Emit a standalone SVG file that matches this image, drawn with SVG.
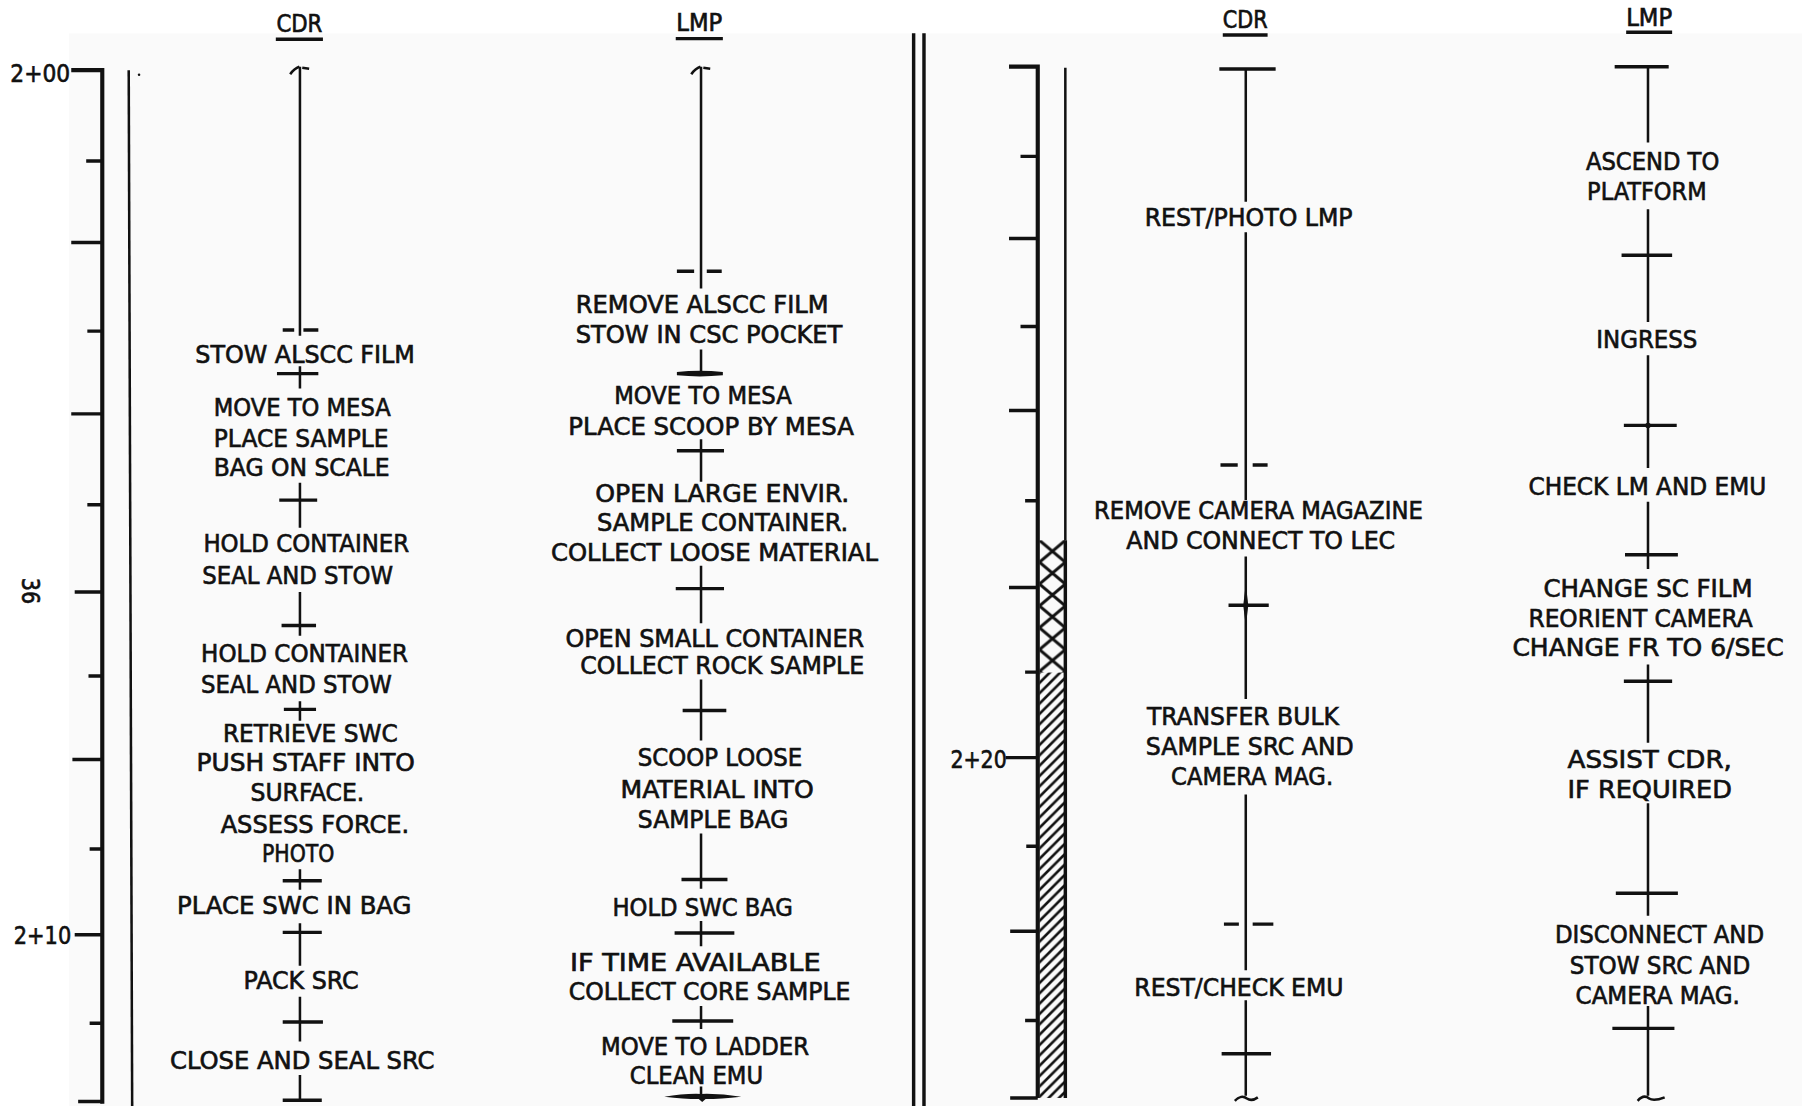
<svg xmlns="http://www.w3.org/2000/svg" width="1802" height="1106" viewBox="0 0 1802 1106">
<defs>
<style>
text{font-family:"DejaVu Sans Condensed","DejaVu Sans","Liberation Sans",sans-serif;font-size:22px;fill:#111;stroke:#111;stroke-width:0.55px}
.hd{font-size:21px}
.ln{stroke:#111;stroke-width:2.2;fill:none}
.tk{stroke:#111;stroke-width:3;fill:none}
.ax{stroke:#111;stroke-width:3.6;fill:none}
.ul{stroke:#111;stroke-width:3}
</style>
<pattern id="xh" patternUnits="userSpaceOnUse" x="904.5" y="470" width="22.5" height="19">
<path d="M0 0 L22.5 19 M22.5 0 L0 19" stroke="#111" stroke-width="2.6" fill="none"/>
</pattern>
<pattern id="dh" patternUnits="userSpaceOnUse" x="904.5" y="585" width="9" height="9">
<path d="M0 9 L9 0 M-1 1 L1 -1 M8 10 L10 8" stroke="#111" stroke-width="2.3" fill="none"/>
</pattern>
</defs>
<rect x="0" y="0" width="1802" height="1106" fill="#ffffff"/>
<g transform="scale(1.14923,1.14969)">
<rect x="60" y="29" width="1508" height="933" fill="#fafafa"/>

<g id="headers">
<text class="hd" x="240.5" y="27.5" textLength="40" lengthAdjust="spacingAndGlyphs">CDR</text>
<line class="ul" x1="240" y1="34.2" x2="281" y2="34.2"/>
<text class="hd" x="588.5" y="26.8" textLength="40" lengthAdjust="spacingAndGlyphs">LMP</text>
<line class="ul" x1="588" y1="33.6" x2="629" y2="33.6"/>
<text class="hd" x="1064" y="24.5" textLength="39" lengthAdjust="spacingAndGlyphs">CDR</text>
<line class="ul" x1="1064" y1="30.4" x2="1103" y2="30.4"/>
<text class="hd" x="1415" y="23" textLength="40" lengthAdjust="spacingAndGlyphs">LMP</text>
<line class="ul" x1="1415" y1="28" x2="1455" y2="28"/>
</g>

<g id="time-axis-left">
<path class="ax" d="M62 61 H89 V960"/>
<path class="tk" d="M75 140 H89 M62 211 H89 M76 288 H89 M62 360 H89 M76 439 H89 M65 515 H89 M77 588 H89 M63 660.6 H89 M78 738.5 H89 M65 813 H89 M78 890 H89 M68 958 H89"/>
<line class="ln" x1="112" y1="61" x2="115" y2="962"/>
<circle cx="121" cy="65" r="1.1" fill="#111"/>
<text x="9" y="71" textLength="52" lengthAdjust="spacingAndGlyphs">2+00</text>
<text x="12" y="821" textLength="50" lengthAdjust="spacingAndGlyphs">2+10</text>
<text transform="translate(19.5,514) rotate(90)" text-anchor="middle" textLength="23" lengthAdjust="spacingAndGlyphs">36</text>
</g>

<g id="time-axis-right">
<line x1="795" y1="29" x2="795" y2="962" stroke="#111" stroke-width="3"/>
<line x1="804" y1="29" x2="804" y2="962" stroke="#111" stroke-width="3"/>
<rect x="904.5" y="470" width="22.5" height="115" fill="url(#xh)"/>
<rect x="904.5" y="585" width="22.5" height="370" fill="url(#dh)"/>
<path class="ax" d="M878 58 H903 V955"/>
<path class="tk" d="M888 136 H903 M878 207.5 H903 M888 284 H903 M878 357 H903 M892 435.6 H903 M878 511 H903 M892 584.6 H903 M875 659 H903 M893 736 H903 M879 810 H903 M892 887.6 H903 M879 955 H903"/>
<line x1="927" y1="59" x2="927" y2="470" stroke="#111" stroke-width="2.2"/>
<line x1="927" y1="470" x2="927" y2="955" stroke="#111" stroke-width="3"/>
<text x="827" y="668" textLength="49" lengthAdjust="spacingAndGlyphs">2+20</text>
</g>

<g id="connectors">
<path class="ln" d="M261 58 V292 M261 318.5 V338 M261 420 V459 M261 515 V553 M261 610 V627 M261 756 V774 M261 803 V840 M261 867 V906 M261 935 V957"/>
<path class="ln" d="M252.5 64.5 Q256 59.5 260.5 58 M263 59 L269 59.8"/>
<path class="tk" d="M246 287 H256 M264 287 H277 M241 325 H277 M243 435 H276 M245 544 H275 M247 617 H275 M246 766 H280 M246 811 H280 M246 889 H281 M246 957 H280"/>
<path class="ln" d="M610 58 V251 M610 304 V325 M610 382 V419 M610 492 V542 M610 591 V644 M610 725 V773 M610 801 V823 M610 875 V895 M610 945 V955"/>
<path class="ln" d="M601.5 64.5 Q605 59.5 609.5 58 M612 59 L618 59.8"/>
<path class="tk" d="M589 236 H604 M615 236 H628 M589 392 H630 M588 512 H630 M594 618 H632 M593 765 H633 M587 811.6 H639 M585 888 H638"/>
<path d="M589 323.5 Q609 321.5 629 323.5 L629 326.5 Q609 328.5 589 326.5 Z" fill="#111"/>
<path d="M578 954 Q595 951 610 951.5 Q627 951 645 954 Q627 956 614 956 L611 958.5 L608 956 Q595 956 578 954 Z" fill="#111"/>
<path class="ln" d="M1084 60 V175.5 M1084 202 V435 M1084 484 V608 M1084 691 V844 M1084 870 V953"/>
<path class="tk" d="M1061 60 H1110 M1062 404.5 H1077 M1090 404.5 H1103 M1069 526.5 H1104 M1065 803.8 H1078 M1090 803.8 H1108 M1063 916.5 H1106"/>
<path d="M1084 508 L1086.2 526.5 L1084 545 L1081.8 526.5 Z" fill="#111"/>
<path class="ln" stroke-width="2.6" d="M1074.5 957.5 C1078 953.5 1082 953 1085 955.5 C1088 957.5 1091 957 1094.5 954.5"/>
<path class="ln" d="M1434 58 V124 M1434 182 V280 M1434 309 V407 M1434 436.5 V495 M1434 578 V646 M1434 698.6 V796.6 M1434 875 V953"/>
<path class="tk" d="M1405 58 H1452 M1411 222 H1455 M1413 370 H1459 M1414 482.6 H1460 M1413 592.5 H1455 M1406 777 H1460 M1403 894.5 H1457"/>
<circle cx="1434" cy="370" r="2.4" fill="#111"/>
<path class="ln" stroke-width="2.6" d="M1425 957.5 C1428.5 953.5 1432 953 1435 955.5 C1438 957.5 1442 957 1448.5 954.5"/>
</g>

<g id="cdr-left-tasks">
<g id="c1"><text x="170" y="315.6" textLength="191" lengthAdjust="spacingAndGlyphs">STOW ALSCC FILM</text></g>
<g id="c2"><text x="186" y="362" textLength="154" lengthAdjust="spacingAndGlyphs">MOVE TO MESA</text>
<text x="186" y="388.6" textLength="152" lengthAdjust="spacingAndGlyphs">PLACE SAMPLE</text>
<text x="186" y="414" textLength="153" lengthAdjust="spacingAndGlyphs">BAG ON SCALE</text></g>
<g id="c3"><text x="177" y="480" textLength="179" lengthAdjust="spacingAndGlyphs">HOLD CONTAINER</text>
<text x="176" y="508" textLength="166" lengthAdjust="spacingAndGlyphs">SEAL AND STOW</text></g>
<g id="c4"><text x="175" y="576" textLength="180" lengthAdjust="spacingAndGlyphs">HOLD CONTAINER</text>
<text x="175" y="603" textLength="166" lengthAdjust="spacingAndGlyphs">SEAL AND STOW</text></g>
<g id="c5"><text x="194" y="645" textLength="152" lengthAdjust="spacingAndGlyphs">RETRIEVE SWC</text>
<text x="171" y="671" textLength="190" lengthAdjust="spacingAndGlyphs">PUSH STAFF INTO</text>
<text x="218" y="697" textLength="99" lengthAdjust="spacingAndGlyphs">SURFACE.</text>
<text x="192" y="724.5" textLength="164" lengthAdjust="spacingAndGlyphs">ASSESS FORCE.</text>
<text x="228" y="749.6" textLength="63" lengthAdjust="spacingAndGlyphs">PHOTO</text></g>
<g id="c6"><text x="154" y="795" textLength="204" lengthAdjust="spacingAndGlyphs">PLACE SWC IN BAG</text></g>
<g id="c7"><text x="212" y="860.5" textLength="100" lengthAdjust="spacingAndGlyphs">PACK SRC</text></g>
<g id="c8"><text x="148" y="929.5" textLength="230" lengthAdjust="spacingAndGlyphs">CLOSE AND SEAL SRC</text></g>
</g>

<g id="lmp-left-tasks">
<g id="l1"><text x="501" y="272" textLength="220" lengthAdjust="spacingAndGlyphs">REMOVE ALSCC FILM</text>
<text x="501" y="298.5" textLength="232" lengthAdjust="spacingAndGlyphs">STOW IN CSC POCKET</text></g>
<g id="l2"><text x="534.5" y="351" textLength="154.5" lengthAdjust="spacingAndGlyphs">MOVE TO MESA</text>
<text x="494.5" y="378" textLength="248.5" lengthAdjust="spacingAndGlyphs">PLACE SCOOP BY MESA</text></g>
<g id="l3"><text x="518" y="437" textLength="221" lengthAdjust="spacingAndGlyphs">OPEN LARGE ENVIR.</text>
<text x="519.5" y="462" textLength="218.5" lengthAdjust="spacingAndGlyphs">SAMPLE CONTAINER.</text>
<text x="479.5" y="488" textLength="284.5" lengthAdjust="spacingAndGlyphs">COLLECT LOOSE MATERIAL</text></g>
<g id="l4"><text x="492" y="562.6" textLength="260" lengthAdjust="spacingAndGlyphs">OPEN SMALL CONTAINER</text>
<text x="505" y="586" textLength="247" lengthAdjust="spacingAndGlyphs">COLLECT ROCK SAMPLE</text></g>
<g id="l5"><text x="555" y="666" textLength="143" lengthAdjust="spacingAndGlyphs">SCOOP LOOSE</text>
<text x="540" y="694" textLength="168" lengthAdjust="spacingAndGlyphs">MATERIAL INTO</text>
<text x="555" y="720" textLength="131" lengthAdjust="spacingAndGlyphs">SAMPLE BAG</text></g>
<g id="l6"><text x="533" y="797" textLength="157" lengthAdjust="spacingAndGlyphs">HOLD SWC BAG</text></g>
<g id="l7"><text x="496" y="845" textLength="218" lengthAdjust="spacingAndGlyphs">IF TIME AVAILABLE</text>
<text x="495" y="870" textLength="245" lengthAdjust="spacingAndGlyphs">COLLECT CORE SAMPLE</text></g>
<g id="l8"><text x="523" y="917.5" textLength="181" lengthAdjust="spacingAndGlyphs">MOVE TO LADDER</text>
<text x="548" y="943" textLength="116" lengthAdjust="spacingAndGlyphs">CLEAN EMU</text></g>
</g>

<g id="cdr-right-tasks">
<g id="rc1"><text x="996" y="197" textLength="181" lengthAdjust="spacingAndGlyphs">REST/PHOTO LMP</text></g>
<g id="rc2"><text x="952" y="451.5" textLength="286" lengthAdjust="spacingAndGlyphs">REMOVE CAMERA MAGAZINE</text>
<text x="980" y="477.4" textLength="234" lengthAdjust="spacingAndGlyphs">AND CONNECT TO LEC</text></g>
<g id="rc3"><text x="998" y="631" textLength="167" lengthAdjust="spacingAndGlyphs">TRANSFER BULK</text>
<text x="997" y="657" textLength="181" lengthAdjust="spacingAndGlyphs">SAMPLE SRC AND</text>
<text x="1019" y="683" textLength="141" lengthAdjust="spacingAndGlyphs">CAMERA MAG.</text></g>
<g id="rc4"><text x="987" y="866" textLength="182" lengthAdjust="spacingAndGlyphs">REST/CHECK EMU</text></g>
</g>

<g id="lmp-right-tasks">
<g id="rl1"><text x="1380" y="148" textLength="116" lengthAdjust="spacingAndGlyphs">ASCEND TO</text>
<text x="1381" y="174" textLength="104" lengthAdjust="spacingAndGlyphs">PLATFORM</text></g>
<g id="rl2"><text x="1389" y="303" textLength="88" lengthAdjust="spacingAndGlyphs">INGRESS</text></g>
<g id="rl3"><text x="1330" y="430.5" textLength="207" lengthAdjust="spacingAndGlyphs">CHECK LM AND EMU</text></g>
<g id="rl4"><text x="1343" y="519" textLength="182" lengthAdjust="spacingAndGlyphs">CHANGE SC FILM</text>
<text x="1330" y="545" textLength="195" lengthAdjust="spacingAndGlyphs">REORIENT CAMERA</text>
<text x="1316" y="571" textLength="236" lengthAdjust="spacingAndGlyphs">CHANGE FR TO 6/SEC</text></g>
<g id="rl5"><text x="1364" y="668" textLength="143" lengthAdjust="spacingAndGlyphs">ASSIST CDR,</text>
<text x="1364" y="694" textLength="143" lengthAdjust="spacingAndGlyphs">IF REQUIRED</text></g>
<g id="rl6"><text x="1353" y="820" textLength="182" lengthAdjust="spacingAndGlyphs">DISCONNECT AND</text>
<text x="1366" y="847" textLength="157" lengthAdjust="spacingAndGlyphs">STOW SRC AND</text>
<text x="1371" y="873" textLength="143" lengthAdjust="spacingAndGlyphs">CAMERA MAG.</text></g>
</g>
</g>
</svg>
